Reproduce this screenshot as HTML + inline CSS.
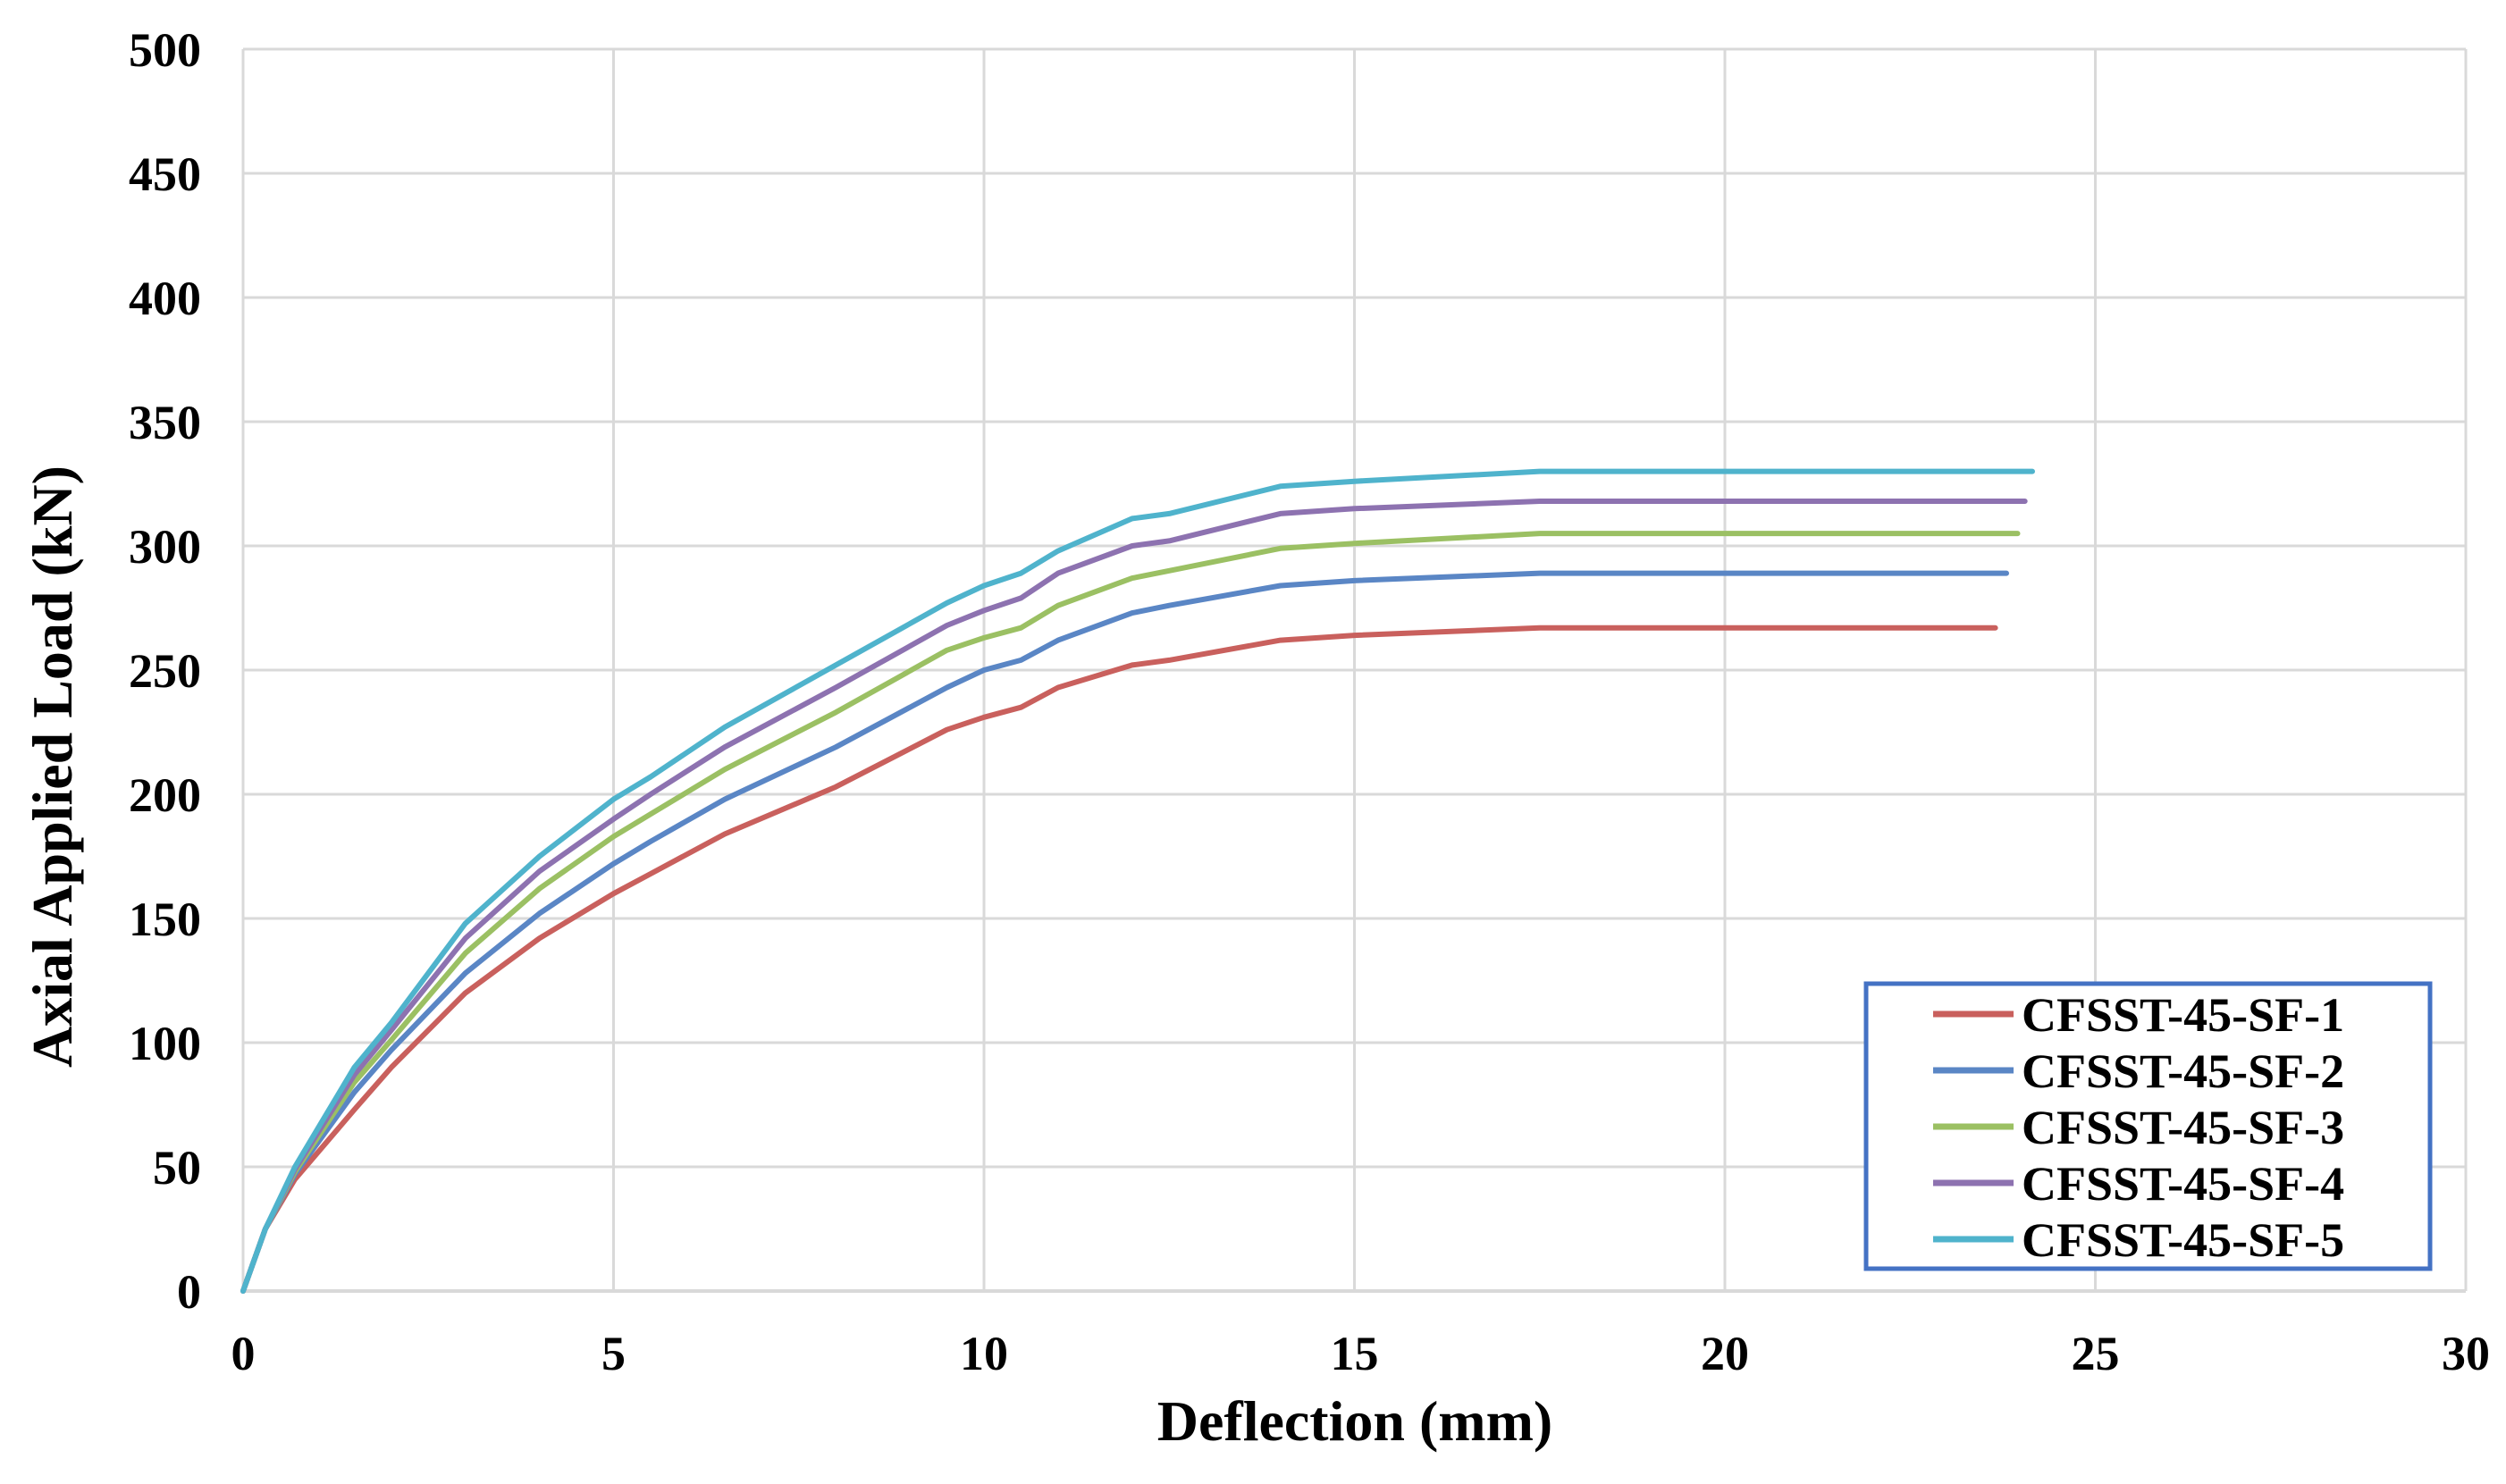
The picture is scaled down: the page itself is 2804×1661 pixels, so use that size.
<!DOCTYPE html>
<html><head><meta charset="utf-8"><style>
html,body{margin:0;padding:0;background:#fff;}
svg{display:block;font-family:"Liberation Serif",serif;font-weight:bold;}
</style></head><body>
<svg id="chart" width="2804" height="1661" viewBox="0 0 2804 1661">
<g id="grid"></g>
<g id="yticks"></g>
<g id="xticks"></g>
<g id="series"></g>
<text x="1516" y="1612" font-size="64" text-anchor="middle">Deflection (mm)</text>
<text x="0" y="0" font-size="64" text-anchor="middle" transform="translate(80,858) rotate(-90)">Axial Applied Load (kN)</text>
<g>
<rect x="2088" y="1101" width="631" height="319" fill="#fff" stroke="#4472C4" stroke-width="5"/>
<g id="legend"></g>
</g>
</svg>
<script>
const xTicks=[0,5,10,15,20,25,30];
const yTicks=[0,50,100,150,200,250,300,350,400,450,500];
const seriesNames=["CFSST-45-SF-1","CFSST-45-SF-2","CFSST-45-SF-3","CFSST-45-SF-4","CFSST-45-SF-5"];
const seriesColors=["#C9605D","#5A86C5","#9BC063","#8D72B0","#4FB3CC"];
const xBase=[0,0.3,0.7,1.5,2,3,4,5,5.5,6.5,8,9.5,10,10.5,11,12,12.5,14,15,17.5];
const xEnds=[23.65,23.8,23.95,24.05,24.15];
const s1=[0,25,45,73,90,120,142,160,168,184,203,226,231,235,243,252,254,262,264,267,267];
const s2=[0,25,47,80,97,128,152,172,181,198,219,243,250,254,262,273,276,284,286,289,289];
const s3=[0,25,48,84,101,136,162,183,192,210,233,258,263,267,276,287,290,299,301,305,305];
const s4=[0,25,49,87,105,142,169,190,200,219,243,268,274,279,289,300,302,313,315,318,318];
const s5=[0,25,50,90,108,148,175,198,207,227,252,277,284,289,298,311,313,324,326,330,330];
const seriesValues=[s1,s2,s3,s4,s5];

const NS="http://www.w3.org/2000/svg";
const L=272,R=2759,T=55,B=1445;
const xs=v=>L+(v-0)/(30-0)*(R-L);
const ys=v=>B-(v-0)/(500-0)*(B-T);
function mk(tag,attrs,parent){const e=document.createElementNS(NS,tag);for(const k in attrs)e.setAttribute(k,attrs[k]);parent.appendChild(e);return e;}
const grid=document.getElementById('grid');
yTicks.forEach(v=>{
  const ln=mk('line',{x1:L,x2:R,y1:ys(v),y2:ys(v),stroke:'#d9d9d9','stroke-width':v===0?4:3},grid);
  
  
  const t=mk('text',{x:225,y:ys(v)+19,'font-size':54,'text-anchor':'end',fill:'#000'},document.getElementById('yticks'));
  t.textContent=v;
  
  
});
xTicks.forEach(v=>{
  const ln=mk('line',{x1:xs(v),x2:xs(v),y1:T,y2:B,stroke:'#d9d9d9','stroke-width':3},grid);
  
  
  const t=mk('text',{x:xs(v),y:1533,'font-size':54,'text-anchor':'middle',fill:'#000'},document.getElementById('xticks'));
  t.textContent=v;
  
  
});
const sg=document.getElementById('series');
seriesValues.forEach((vals,i)=>{
  const xv=xBase.concat([xEnds[i]]);
  const pts=vals.map((v,j)=>xs(xv[j]).toFixed(1)+','+ys(v).toFixed(1)).join(' ');
  const p=mk('polyline',{points:pts,fill:'none',stroke:seriesColors[i],'stroke-width':6,'stroke-linejoin':'round','stroke-linecap':'round'},sg);
  
  
});
const lg=document.getElementById('legend');
seriesNames.forEach((n,i)=>{
  const y=1135+i*63;
  const ln=mk('line',{x1:2163,x2:2253,y1:y,y2:y,stroke:seriesColors[i],'stroke-width':7},lg);
  
  
  const t=mk('text',{x:2262,y:y+19,'font-size':54,fill:'#000'},lg);
  t.textContent=n;
  
  
});
</script>
</body></html>
